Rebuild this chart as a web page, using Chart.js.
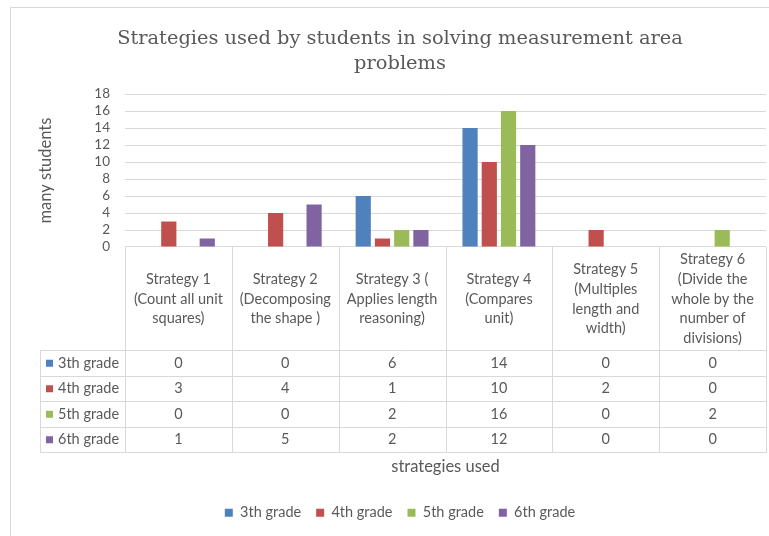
<!DOCTYPE html>
<html><head><meta charset="utf-8">
<script src="https://cdn.jsdelivr.net/npm/chart.js@4.4.1/dist/chart.umd.min.js"></script>
<style>html,body{margin:0;padding:0;background:#fff;}canvas{display:block;}</style>
</head><body>
<canvas id="c" width="769" height="536"></canvas>
<script>
const categories = [
  ["Strategy 1", "(Count all unit", "squares)"],
  ["Strategy 2", "(Decomposing", "the shape )"],
  ["Strategy 3 (", "Applies length", "reasoning)"],
  ["Strategy 4", "(Compares", "unit)"],
  ["Strategy 5", "(Multiples", "length and", "width)"],
  ["Strategy 6", "(Divide the", "whole by the", "number of", "divisions)"]
];
const seriesNames = ["3th grade", "4th grade", "5th grade", "6th grade"];
const grade3 = [0, 0, 6, 14, 0, 0];
const grade4 = [3, 4, 1, 10, 2, 0];
const grade5 = [0, 0, 2, 16, 0, 2];
const grade6 = [1, 5, 2, 12, 0, 0];
const yTicks = [0, 2, 4, 6, 8, 10, 12, 14, 16, 18];
const colors = ["#4F81BD", "#C0504D", "#9BBB59", "#8064A2"];
const titleLines = ["Strategies used by students in solving measurement area", "problems"];

const seriesValues = [grade3, grade4, grade5, grade6];
const TXT = "#595959", LINE = "#d9d9d9", FONT = "Lato";

const frame = {
  id: "frame",
  beforeDraw(chart) {
    const c = chart.ctx;
    c.save();
    c.fillStyle = "#fff";
    c.fillRect(0, 0, chart.width, chart.height);
    c.strokeStyle = LINE;
    c.lineWidth = 1;
    c.strokeRect(10.5, 7.5, 900, 700);
    c.restore();
  }
};

const dataTable = {
  id: "dataTable",
  afterDraw(chart) {
    const c = chart.ctx, x = chart.scales.x, area = chart.chartArea;
    const n = categories.length;
    const cw = (area.right - area.left) / n;
    const top = area.bottom, headH = 103, rowH = 25.5;
    const headBottom = top + headH;
    const bottom = headBottom + rowH * seriesNames.length;
    const legLeft = area.left - 85;
    c.save();
    c.strokeStyle = LINE;
    c.lineWidth = 1;
    c.beginPath();
    for (let i = 0; i <= n; i++) {
      const px = Math.round(area.left + i * cw) + 0.5;
      c.moveTo(px, top); c.lineTo(px, bottom);
    }
    c.moveTo(legLeft + 0.5, headBottom); c.lineTo(legLeft + 0.5, bottom);
    for (let r = 0; r <= seriesNames.length; r++) {
      const py = Math.round(headBottom + r * rowH) + 0.5;
      c.moveTo(legLeft, py); c.lineTo(area.right + 1, py);
    }
    c.stroke();
    c.fillStyle = TXT;
    c.font = "14.5px " + FONT;
    c.textAlign = "center";
    c.textBaseline = "middle";
    const lh = 19.7;
    categories.forEach((lines, i) => {
      const cx = x.getPixelForValue(i);
      const cy = top + headH / 2 + 0.5;
      lines.forEach((t, k) => {
        c.fillText(t, cx, cy + (k - (lines.length - 1) / 2) * lh);
      });
    });
    seriesValues.forEach((vals, r) => {
      const cy = headBottom + r * rowH + rowH / 2 + 0.5;
      vals.forEach((v, i) => {
        c.fillText(String(v), x.getPixelForValue(i), cy);
      });
      c.fillStyle = colors[r];
      c.fillRect(legLeft + 6, cy - 3.5, 7, 7);
      c.fillStyle = TXT;
      c.textAlign = "left";
      c.fillText(seriesNames[r], legLeft + 18, cy);
      c.textAlign = "center";
    });
    c.restore();
  }
};

new Chart(document.getElementById("c"), {
  type: "bar",
  data: {
    labels: categories,
    datasets: seriesNames.map((name, i) => ({
      label: name,
      data: seriesValues[i],
      backgroundColor: colors[i],
      borderWidth: 0,
      categoryPercentage: 0.72,
      barPercentage: 0.79
    }))
  },
  options: {
    responsive: false,
    animation: false,
    devicePixelRatio: 1,
    layout: { padding: { left: 34, right: 3, top: 0, bottom: 6 } },
    plugins: {
      title: {
        display: true,
        text: titleLines,
        color: TXT,
        font: { family: "DejaVu Serif", size: 19.4, weight: "normal", lineHeight: 1.29 },
        padding: { top: 26, bottom: 18 }
      },
      legend: {
        position: "bottom",
        labels: { boxWidth: 8, boxHeight: 8, color: TXT, font: { family: FONT, size: 14.5 }, padding: 15 }
      },
      tooltip: { enabled: false }
    },
    scales: {
      x: {
        grid: { display: false },
        border: { display: false },
        ticks: { display: false },
        title: { display: true, text: "strategies used", color: TXT, font: { family: FONT, size: 16.5 }, padding: { top: 0, bottom: 13.6 } },
        afterFit(s) { s.height = 243.5; }
      },
      y: {
        min: 0, max: 18,
        afterBuildTicks(s) { s.ticks = yTicks.map(v => ({ value: v })); },
        ticks: { color: TXT, font: { family: FONT, size: 13.5 }, padding: 15, autoSkip: false },
        grid: { color: LINE, drawTicks: false },
        border: { display: false },
        title: { display: true, text: "many students", color: TXT, font: { family: FONT, size: 16.5 }, padding: { top: 2, bottom: 0 } },
        afterFit(s) { s.width = 91; }
      }
    }
  },
  plugins: [frame, dataTable]
});
</script>
</body></html>
